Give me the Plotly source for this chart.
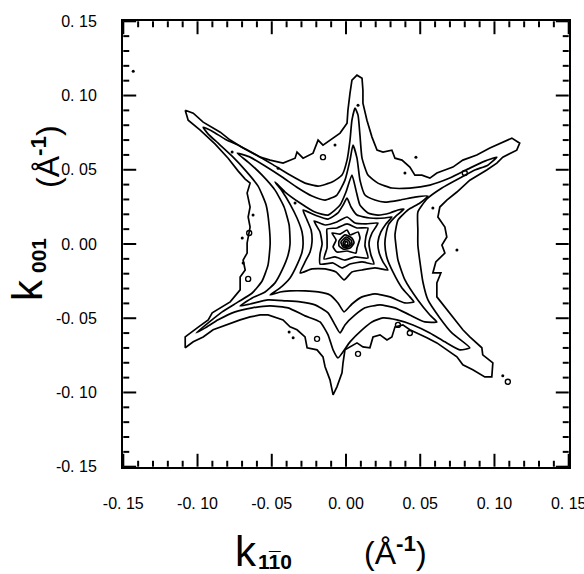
import plotly.graph_objects as go

# ---------------- axis ticks ----------------
tick_vals = [-0.15, -0.10, -0.05, 0.0, 0.05, 0.10, 0.15]
tick_text = ["-0. 15", "-0. 10", "-0. 05", "0. 00", "0. 05", "0. 10", "0. 15"]
minor_vals = [-0.14, -0.13, -0.12, -0.11, -0.09, -0.08, -0.07, -0.06, -0.04, -0.03, -0.02, -0.01,
              0.01, 0.02, 0.03, 0.04, 0.06, 0.07, 0.08, 0.09, 0.11, 0.12, 0.13, 0.14]
axis_lo, axis_hi = -0.15, 0.15

# ---------------- contour lines (in A^-1) ----------------
c1_x = [-0.1083, -0.1029, -0.0962, -0.0847, -0.0780, -0.0693, -0.0578, -0.0511, -0.0424, -0.0343,
        -0.0330, -0.0289, -0.0222, -0.0188, -0.0155, -0.0087, -0.0040, 0.0007, 0.0013, 0.0027,
        0.0040, 0.0074, 0.0108, 0.0114, 0.0114, 0.0141, 0.0175, 0.0209, 0.0249, 0.0309,
        0.0330, 0.0377, 0.0430, 0.0464, 0.0511, 0.0565, 0.0612, 0.0666, 0.0720, 0.0787,
        0.0881, 0.0969, 0.1056, 0.1117, 0.1170, 0.1150, 0.1056, 0.1016, 0.0948, 0.0834,
        0.0747, 0.0679, 0.0632, 0.0619, 0.0666, 0.0679, 0.0646, 0.0666, 0.0605, 0.0585,
        0.0639, 0.0612, 0.0612, 0.0666, 0.0720, 0.0747, 0.0787, 0.0834, 0.0881, 0.0915,
        0.0921, 0.0989, 0.0982, 0.0935, 0.0854, 0.0787, 0.0747, 0.0679, 0.0612, 0.0545,
        0.0478, 0.0430, 0.0383, 0.0330, 0.0309, 0.0276, 0.0229, 0.0182, 0.0161, 0.0114,
        0.0074, 0.0027, -0.0007, -0.0020, -0.0027, -0.0061, -0.0087, -0.0108, -0.0141, -0.0155,
        -0.0195, -0.0262, -0.0276, -0.0330, -0.0377, -0.0424, -0.0464, -0.0525, -0.0578, -0.0646,
        -0.0713, -0.0800, -0.0895, -0.0962, -0.1029, -0.1083, -0.1083, -0.1002, -0.0928, -0.0901,
        -0.0847, -0.0780, -0.0713, -0.0713, -0.0679, -0.0693, -0.0666, -0.0666, -0.0646, -0.0659,
        -0.0646, -0.0666, -0.0646, -0.0679, -0.0726, -0.0794, -0.0881, -0.0982, -0.1063]
c1_y = [0.0901, 0.0881, 0.0821, 0.0753, 0.0700, 0.0646, 0.0585, 0.0565, 0.0545, 0.0578,
        0.0619, 0.0578, 0.0612, 0.0700, 0.0666, 0.0713, 0.0747, 0.0814, 0.0901, 0.1016,
        0.1103, 0.1137, 0.1117, 0.1036, 0.0948, 0.0834, 0.0720, 0.0632, 0.0619, 0.0632,
        0.0578, 0.0565, 0.0518, 0.0464, 0.0464, 0.0444, 0.0478, 0.0498, 0.0518, 0.0565,
        0.0599, 0.0646, 0.0686, 0.0713, 0.0679, 0.0632, 0.0585, 0.0545, 0.0498, 0.0430,
        0.0350, 0.0296, 0.0249, 0.0182, 0.0114, 0.0047, -0.0007, -0.0061, -0.0121, -0.0195,
        -0.0195, -0.0262, -0.0356, -0.0424, -0.0491, -0.0531, -0.0578, -0.0626, -0.0666, -0.0699,
        -0.0747, -0.0800, -0.0895, -0.0895, -0.0847, -0.0814, -0.0760, -0.0713, -0.0666, -0.0632,
        -0.0599, -0.0578, -0.0545, -0.0558, -0.0626, -0.0646, -0.0612, -0.0626, -0.0699, -0.0693,
        -0.0666, -0.0693, -0.0713, -0.0800, -0.0868, -0.0962, -0.1016, -0.0915, -0.0827, -0.0760,
        -0.0713, -0.0699, -0.0626, -0.0578, -0.0558, -0.0511, -0.0498, -0.0478, -0.0478, -0.0491,
        -0.0511, -0.0545, -0.0578, -0.0626, -0.0659, -0.0699, -0.0626, -0.0565, -0.0511, -0.0464,
        -0.0430, -0.0390, -0.0309, -0.0222, -0.0175, -0.0108, -0.0061, 0.0007, 0.0114, 0.0182,
        0.0249, 0.0343, 0.0410, 0.0437, 0.0491, 0.0578, 0.0673, 0.0767, 0.0834]

c2_x = [-0.0962, -0.0901, -0.0814, -0.0713, -0.0612, -0.0498, -0.0377, -0.0276, -0.0188, -0.0094,
        -0.0027, 0.0007, 0.0027, 0.0040, 0.0061, 0.0081, 0.0094, 0.0108, 0.0148, 0.0215,
        0.0309, 0.0430, 0.0565, 0.0699, 0.0834, 0.0935, 0.1016, 0.0955, 0.0868, 0.0767,
        0.0646, 0.0545, 0.0484, 0.0484, 0.0484, 0.0498, 0.0518, 0.0552, 0.0632, 0.0713,
        0.0834, 0.0767, 0.0666, 0.0565, 0.0451, 0.0343, 0.0249, 0.0175, 0.0108, 0.0027,
        -0.0054, -0.0087, -0.0121, -0.0175, -0.0276, -0.0390, -0.0511, -0.0632, -0.0747, -0.0861,
        -0.0948, -0.1009, -0.0928, -0.0834, -0.0726, -0.0632, -0.0565, -0.0525, -0.0511, -0.0518,
        -0.0538, -0.0592, -0.0673, -0.0767, -0.0861, -0.0928]
c2_y = [0.0787, 0.0760, 0.0706, 0.0659, 0.0605, 0.0538, 0.0464, 0.0410, 0.0390, 0.0417,
        0.0464, 0.0565, 0.0700, 0.0834, 0.0915, 0.0868, 0.0733, 0.0578, 0.0464, 0.0410,
        0.0377, 0.0377, 0.0397, 0.0444, 0.0511, 0.0558, 0.0585, 0.0531, 0.0498, 0.0444,
        0.0377, 0.0303, 0.0215, 0.0094, -0.0007, -0.0121, -0.0256, -0.0377, -0.0498, -0.0599,
        -0.0699, -0.0713, -0.0659, -0.0599, -0.0545, -0.0511, -0.0498, -0.0525, -0.0578, -0.0659,
        -0.0767, -0.0713, -0.0612, -0.0525, -0.0484, -0.0430, -0.0417, -0.0430, -0.0457, -0.0511,
        -0.0565, -0.0599, -0.0531, -0.0457, -0.0390, -0.0330, -0.0249, -0.0141, 0.0000, 0.0128,
        0.0262, 0.0390, 0.0491, 0.0592, 0.0679, 0.0740]

c3_x = [-0.0733, -0.0646, -0.0545, -0.0430, -0.0323, -0.0229, -0.0141, -0.0061, -0.0007, 0.0027,
        0.0047, 0.0074, 0.0094, 0.0128, 0.0195, 0.0262, 0.0363, 0.0464, 0.0552, 0.0498,
        0.0417, 0.0350, 0.0330, 0.0336, 0.0350, 0.0397, 0.0484, 0.0565, 0.0612, 0.0531,
        0.0430, 0.0330, 0.0229, 0.0128, 0.0061, -0.0007, -0.0040, -0.0074, -0.0121, -0.0209,
        -0.0309, -0.0410, -0.0525, -0.0646, -0.0713, -0.0632, -0.0545, -0.0478, -0.0430, -0.0390,
        -0.0377, -0.0383, -0.0417, -0.0478, -0.0565, -0.0659]
c3_y = [0.0612, 0.0585, 0.0525, 0.0451, 0.0377, 0.0323, 0.0296, 0.0330, 0.0430, 0.0565,
        0.0666, 0.0578, 0.0430, 0.0330, 0.0296, 0.0282, 0.0296, 0.0316, 0.0323, 0.0276,
        0.0229, 0.0161, 0.0061, -0.0007, -0.0108, -0.0242, -0.0377, -0.0478, -0.0525, -0.0525,
        -0.0478, -0.0430, -0.0410, -0.0430, -0.0478, -0.0545, -0.0599, -0.0545, -0.0464, -0.0410,
        -0.0390, -0.0383, -0.0377, -0.0404, -0.0417, -0.0363, -0.0323, -0.0262, -0.0175, -0.0074,
        0.0000, 0.0128, 0.0249, 0.0363, 0.0464, 0.0552]

c4_x = [-0.0478, -0.0410, -0.0309, -0.0209, -0.0121, -0.0040, 0.0000, 0.0040, 0.0067, 0.0094,
        0.0148, 0.0215, 0.0296, 0.0350, 0.0390, 0.0336, 0.0289, 0.0269, 0.0262, 0.0276,
        0.0316, 0.0377, 0.0430, 0.0457, 0.0397, 0.0296, 0.0195, 0.0108, 0.0040, -0.0013,
        -0.0054, -0.0108, -0.0188, -0.0276, -0.0377, -0.0444, -0.0511, -0.0444, -0.0377, -0.0330,
        -0.0296, -0.0289, -0.0296, -0.0330, -0.0377, -0.0430]
c4_y = [0.0417, 0.0350, 0.0276, 0.0215, 0.0195, 0.0262, 0.0350, 0.0464, 0.0363, 0.0262,
        0.0209, 0.0195, 0.0209, 0.0229, 0.0235, 0.0188, 0.0135, 0.0067, 0.0000, -0.0094,
        -0.0188, -0.0296, -0.0356, -0.0390, -0.0397, -0.0356, -0.0336, -0.0356, -0.0404, -0.0457,
        -0.0397, -0.0343, -0.0323, -0.0316, -0.0316, -0.0323, -0.0343, -0.0296, -0.0229, -0.0141,
        -0.0054, 0.0000, 0.0081, 0.0175, 0.0269, 0.0356]

c5_x = [-0.0289, -0.0209, -0.0121, -0.0054, -0.0020, 0.0007, 0.0034, 0.0074, 0.0161, 0.0262,
        0.0309, 0.0269, 0.0235, 0.0215, 0.0222, 0.0249, 0.0282, 0.0195, 0.0108, 0.0040,
        -0.0013, -0.0067, -0.0141, -0.0229, -0.0309, -0.0276, -0.0242, -0.0229, -0.0235, -0.0262]
c5_y = [0.0229, 0.0195, 0.0168, 0.0209, 0.0262, 0.0309, 0.0249, 0.0195, 0.0175, 0.0175,
        0.0182, 0.0135, 0.0081, 0.0013, -0.0054, -0.0121, -0.0175, -0.0161, -0.0175, -0.0188,
        -0.0242, -0.0188, -0.0168, -0.0168, -0.0195, -0.0121, -0.0054, 0.0013, 0.0094, 0.0161]

c6_x = [-0.0215, -0.0141, -0.0061, 0.0007, 0.0061, 0.0135, 0.0215, 0.0175, 0.0155, 0.0168,
        0.0188, 0.0108, 0.0027, -0.0027, -0.0087, -0.0175, -0.0175, -0.0161, -0.0175]
c6_y = [0.0155, 0.0128, 0.0148, 0.0182, 0.0141, 0.0135, 0.0141, 0.0074, 0.0007, -0.0074,
        -0.0135, -0.0121, -0.0135, -0.0161, -0.0128, -0.0135, -0.0067, 0.0000, 0.0081]

c7_x = [-0.0128, -0.0061, 0.0007, 0.0074, 0.0148, 0.0135, 0.0128, 0.0148, 0.0061, -0.0007,
        -0.0074, -0.0148, -0.0128, -0.0128]
c7_y = [0.0101, 0.0108, 0.0135, 0.0108, 0.0108, 0.0054, -0.0013, -0.0094, -0.0087, -0.0108,
        -0.0087, -0.0101, -0.0027, 0.0054]

c8_x = [-0.0094, -0.0040, 0.0007, 0.0027, 0.0081, 0.0094, 0.0074, 0.0067, 0.0007, -0.0061,
        -0.0087, -0.0067]
c8_y = [0.0074, 0.0067, 0.0094, 0.0061, 0.0081, 0.0040, -0.0027, -0.0061, -0.0047, -0.0054,
        -0.0020, 0.0027]

c9_x = [-0.0047, -0.0007, 0.0040, 0.0054, 0.0027, -0.0020, -0.0047]
c9_y = [0.0020, 0.0061, 0.0040, 0.0007, -0.0027, -0.0034, -0.0013]

c10_x = [-0.0034, 0.0000, 0.0034, 0.0040, 0.0013, -0.0020]
c10_y = [0.0013, 0.0047, 0.0027, 0.0000, -0.0020, -0.0020]

c11_x = [-0.0020, 0.0000, 0.0020, 0.0027, 0.0007, -0.0013]
c11_y = [0.0007, 0.0034, 0.0020, 0.0000, -0.0013, -0.0013]

c12_x = [-0.0007, 0.0000, 0.0013, 0.0007, -0.0007]
c12_y = [0.0007, 0.0020, 0.0007, -0.0007, -0.0007]

# small closed islands and isolated specks
loop_x = [-0.0155, -0.0652, 0.0800, 0.0350, 0.0430, 0.0081, 0.1090, -0.0195, -0.0659]
loop_y = [0.0585, 0.0074, 0.0478, -0.0545, -0.0599, -0.0740, -0.0928, -0.0639, -0.0235]
dot_x = [-0.0767, -0.0457, -0.0343, -0.0626, -0.0699, -0.0074, 0.0081, 0.0471, 0.0397, 0.0585,
         0.0747, 0.1056, -0.0356, -0.0383, -0.0693, -0.1433]
dot_y = [0.0619, 0.0511, 0.0276, 0.0195, 0.0040, 0.0666, 0.0935, 0.0585, 0.0478, 0.0242,
         -0.0040, -0.0888, -0.0632, -0.0592, -0.0128, 0.1164]

contours = [
    (c1_x, c1_y, "linear"), (c2_x, c2_y, "spline"), (c3_x, c3_y, "spline"),
    (c4_x, c4_y, "spline"), (c5_x, c5_y, "spline"), (c6_x, c6_y, "spline"),
    (c7_x, c7_y, "spline"), (c8_x, c8_y, "spline"), (c9_x, c9_y, "spline"),
    (c10_x, c10_y, "spline"), (c11_x, c11_y, "spline"), (c12_x, c12_y, "spline"),
]

fig = go.Figure()
for cx, cy, shp in contours:
    fig.add_trace(go.Scatter(
        x=cx + [cx[0]], y=cy + [cy[0]], mode="lines",
        line=dict(color="black", width=1.7, shape=shp, smoothing=0.5),
        hoverinfo="skip", showlegend=False))

fig.add_trace(go.Scatter(x=loop_x, y=loop_y, mode="markers",
                         marker=dict(symbol="circle-open", size=5, color="black",
                                     line=dict(width=1.4, color="black")),
                         hoverinfo="skip", showlegend=False))
fig.add_trace(go.Scatter(x=dot_x, y=dot_y, mode="markers",
                         marker=dict(symbol="circle", size=3, color="black"),
                         hoverinfo="skip", showlegend=False))

# ---------------- inward tick marks on all four sides ----------------
MAJOR_LEN, MINOR_LEN = 0.0087, 0.0040   # tick lengths in axis units (about 13 px / 6 px)
tick_pos = tick_vals + minor_vals
tick_len = [MAJOR_LEN] * len(tick_vals) + [MINOR_LEN] * len(minor_vals)

seg_a, seg_b = [], []      # along-axis coordinate, across-axis coordinate (bottom/left side)
seg_c = []                 # across-axis coordinate (top/right side)
for p, ln in zip(tick_pos, tick_len):
    seg_a += [p, p, None]
    seg_b += [axis_lo, axis_lo + ln, None]
    seg_c += [axis_hi, axis_hi - ln, None]

tick_line = dict(color="black", width=2)
for xs, ys in [(seg_a, seg_b), (seg_a, seg_c), (seg_b, seg_a), (seg_c, seg_a)]:
    fig.add_trace(go.Scatter(x=xs, y=ys, mode="lines", line=tick_line, connectgaps=False,
                             cliponaxis=False, hoverinfo="skip", showlegend=False))

# tick labels: map plotly's formatted numbers onto the printed labels
label_alias = {}
for v, t in zip(tick_vals, tick_text):
    s = f"{v:.2f}"
    label_alias[s] = t
    label_alias[s.replace("-", "\u2212")] = t

RNG = [-0.1502, 0.1502]
tick_font = dict(family="Liberation Sans, Arial, sans-serif", size=16, color="black")

# axes: frame + labels (transparent outside ticks only space the labels)
label_axis = dict(
    range=RNG, tickmode="linear", tick0=0, dtick=0.05, tickformat=".2f",
    labelalias=label_alias, ticklabeloverflow="allow",
    ticks="outside", tickcolor="rgba(0,0,0,0)", tickwidth=1,
    showline=True, linecolor="black", linewidth=2, mirror=True,
    showgrid=False, zeroline=False, tickfont=tick_font,
)

L, R, T, B = 123, 15, 21, 107
W, H = 584, 574
pw, ph = W - L - R, H - T - B


def px2paper(px, py):
    return (px - L) / pw, (H - B - py) / ph


title_font = "Liberation Sans, Arial, Helvetica, sans-serif"
ann = []
# x-axis title
x0, y0 = px2paper(246, 551)
ann.append(dict(text="k", x=x0, y=y0, font=dict(family=title_font, size=42)))
x0, y0 = px2paper(275, 561)
ann.append(dict(text="<b>110</b>", x=x0, y=y0, font=dict(family=title_font, size=21)))
x0, y0 = px2paper(274, 558)
ann.append(dict(text="<b>\u00af</b>", x=x0, y=y0, font=dict(family=title_font, size=21)))
x0, y0 = px2paper(395, 551)
ann.append(dict(text="(Å<sup><b>-1</b></sup>)", x=x0, y=y0, font=dict(family=title_font, size=32)))
# y-axis title (rotated)
x0, y0 = px2paper(27, 290)
ann.append(dict(text="k", x=x0, y=y0, textangle=-90, font=dict(family=title_font, size=42)))
x0, y0 = px2paper(38, 256)
ann.append(dict(text="<b>001</b>", x=x0, y=y0, textangle=-90, font=dict(family=title_font, size=21)))
x0, y0 = px2paper(46, 157)
ann.append(dict(text="(Å<sup><b>-1</b></sup>)", x=x0, y=y0, textangle=-90,
                font=dict(family=title_font, size=32)))

for a in ann:
    a["font"]["color"] = "black"
    a.update(xref="paper", yref="paper", showarrow=False, xanchor="center", yanchor="middle")

fig.update_layout(
    width=W, height=H, margin=dict(l=L, r=R, t=T, b=B, autoexpand=False),
    paper_bgcolor="white", plot_bgcolor="white", annotations=ann, showlegend=False,
    xaxis=dict(**label_axis, ticklen=21),
    yaxis=dict(**label_axis, ticklen=21),
)

fig.write_html("out.html")
